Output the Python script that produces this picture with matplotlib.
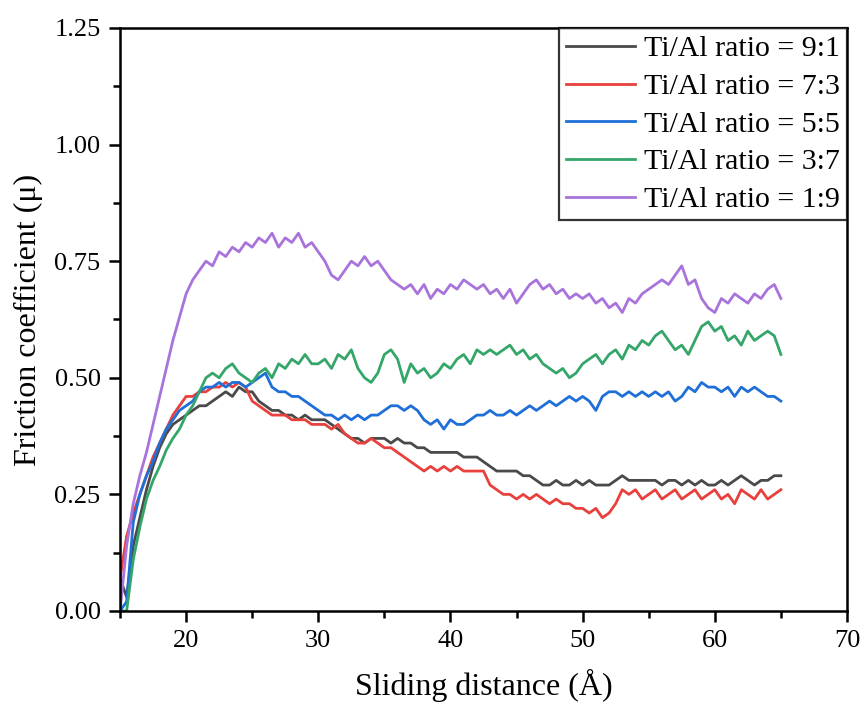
import numpy as np
import matplotlib.pyplot as plt
from matplotlib.ticker import MultipleLocator

plt.rcParams['font.family'] = ['Liberation Serif', 'DejaVu Serif']

# sliding distance grid (angstrom), 0.5 step from 15 to 65
distance = np.arange(15.0, 65.01, 0.5)

ratio_9_1 = [0.07, 0.03, 0.14, 0.20, 0.26, 0.31, 0.35, 0.38, 0.40, 0.41,
             0.42, 0.43, 0.44, 0.44, 0.45, 0.46, 0.47, 0.46, 0.48, 0.47,
             0.47, 0.45, 0.44, 0.43, 0.43, 0.42, 0.42, 0.41, 0.42, 0.41,
             0.41, 0.41, 0.40, 0.39, 0.38, 0.37, 0.37, 0.36, 0.37, 0.37,
             0.37, 0.36, 0.37, 0.36, 0.36, 0.35, 0.35, 0.34, 0.34, 0.34,
             0.34, 0.34, 0.33, 0.33, 0.33, 0.32, 0.31, 0.30, 0.30, 0.30,
             0.30, 0.29, 0.29, 0.28, 0.27, 0.27, 0.28, 0.27, 0.27, 0.28,
             0.27, 0.28, 0.27, 0.27, 0.27, 0.28, 0.29, 0.28, 0.28, 0.28,
             0.28, 0.28, 0.27, 0.28, 0.28, 0.27, 0.28, 0.27, 0.28, 0.27,
             0.27, 0.28, 0.27, 0.28, 0.29, 0.28, 0.27, 0.28, 0.28, 0.29,
             0.29]

ratio_7_3 = [0.07, 0.16, 0.21, 0.25, 0.29, 0.33, 0.36, 0.39, 0.42, 0.44,
             0.46, 0.46, 0.47, 0.47, 0.48, 0.48, 0.49, 0.48, 0.49, 0.48,
             0.45, 0.44, 0.43, 0.42, 0.42, 0.42, 0.41, 0.41, 0.41, 0.40,
             0.40, 0.40, 0.39, 0.40, 0.38, 0.37, 0.36, 0.36, 0.37, 0.36,
             0.35, 0.35, 0.34, 0.33, 0.32, 0.31, 0.30, 0.31, 0.30, 0.31,
             0.30, 0.31, 0.30, 0.30, 0.30, 0.30, 0.27, 0.26, 0.25, 0.25,
             0.24, 0.25, 0.24, 0.25, 0.24, 0.23, 0.24, 0.23, 0.23, 0.22,
             0.22, 0.21, 0.22, 0.20, 0.21, 0.23, 0.26, 0.25, 0.26, 0.24,
             0.25, 0.26, 0.24, 0.25, 0.26, 0.24, 0.25, 0.26, 0.24, 0.25,
             0.26, 0.24, 0.25, 0.23, 0.26, 0.25, 0.24, 0.26, 0.24, 0.25,
             0.26]

ratio_5_5 = [0.00, 0.02, 0.19, 0.25, 0.29, 0.32, 0.36, 0.39, 0.41, 0.43,
             0.44, 0.45, 0.47, 0.48, 0.48, 0.49, 0.48, 0.49, 0.49, 0.48,
             0.49, 0.50, 0.51, 0.48, 0.47, 0.47, 0.46, 0.46, 0.45, 0.44,
             0.43, 0.42, 0.42, 0.41, 0.42, 0.41, 0.42, 0.41, 0.42, 0.42,
             0.43, 0.44, 0.44, 0.43, 0.44, 0.43, 0.41, 0.40, 0.41, 0.39,
             0.41, 0.40, 0.40, 0.41, 0.42, 0.42, 0.43, 0.42, 0.42, 0.43,
             0.42, 0.43, 0.44, 0.43, 0.44, 0.45, 0.44, 0.45, 0.46, 0.45,
             0.46, 0.45, 0.43, 0.46, 0.47, 0.47, 0.46, 0.47, 0.46, 0.47,
             0.46, 0.47, 0.46, 0.47, 0.45, 0.46, 0.48, 0.47, 0.49, 0.48,
             0.48, 0.47, 0.48, 0.46, 0.48, 0.47, 0.48, 0.47, 0.46, 0.46,
             0.45]

ratio_3_7 = [0.00, 0.00, 0.11, 0.18, 0.24, 0.28, 0.31, 0.345, 0.37, 0.39,
             0.42, 0.44, 0.47, 0.50, 0.51, 0.50, 0.52, 0.53, 0.51, 0.50,
             0.49, 0.51, 0.52, 0.50, 0.53, 0.52, 0.54, 0.53, 0.55, 0.53,
             0.53, 0.54, 0.52, 0.55, 0.54, 0.56, 0.52, 0.50, 0.49, 0.51,
             0.55, 0.56, 0.54, 0.49, 0.53, 0.51, 0.52, 0.50, 0.51, 0.53,
             0.52, 0.54, 0.55, 0.53, 0.56, 0.55, 0.56, 0.55, 0.56, 0.57,
             0.55, 0.56, 0.54, 0.55, 0.53, 0.52, 0.51, 0.52, 0.50, 0.51,
             0.53, 0.54, 0.55, 0.53, 0.55, 0.56, 0.54, 0.57, 0.56, 0.58,
             0.57, 0.59, 0.60, 0.58, 0.56, 0.57, 0.55, 0.58, 0.61, 0.62,
             0.60, 0.61, 0.58, 0.59, 0.57, 0.60, 0.58, 0.59, 0.60, 0.59,
             0.55]

ratio_1_9 = [0.00, 0.14, 0.23, 0.29, 0.34, 0.40, 0.46, 0.52, 0.58, 0.63,
             0.68, 0.71, 0.73, 0.75, 0.74, 0.77, 0.76, 0.78, 0.77, 0.79,
             0.78, 0.80, 0.79, 0.81, 0.78, 0.80, 0.79, 0.81, 0.78, 0.79,
             0.77, 0.75, 0.72, 0.71, 0.73, 0.75, 0.74, 0.76, 0.74, 0.75,
             0.73, 0.71, 0.70, 0.69, 0.70, 0.68, 0.70, 0.67, 0.69, 0.68,
             0.70, 0.69, 0.71, 0.70, 0.69, 0.70, 0.68, 0.69, 0.67, 0.69,
             0.66, 0.68, 0.70, 0.71, 0.69, 0.70, 0.68, 0.69, 0.67, 0.68,
             0.67, 0.68, 0.66, 0.67, 0.65, 0.66, 0.64, 0.67, 0.66, 0.68,
             0.69, 0.70, 0.71, 0.70, 0.72, 0.74, 0.70, 0.71, 0.67, 0.65,
             0.64, 0.67, 0.66, 0.68, 0.67, 0.66, 0.68, 0.67, 0.69, 0.70,
             0.67]

labels = ['Ti/Al ratio = 9:1', 'Ti/Al ratio = 7:3', 'Ti/Al ratio = 5:5',
          'Ti/Al ratio = 3:7', 'Ti/Al ratio = 1:9']
colors = ['#4a4a4a', '#e8403c', '#1f6fd8', '#35a66a', '#a874dc']
series = [ratio_9_1, ratio_7_3, ratio_5_5, ratio_3_7, ratio_1_9]

fig = plt.figure(figsize=(8.61, 7.03), dpi=100)
ax = fig.add_axes([0.1394, 0.1309, 0.8443, 0.8293])

for ys, lab, c in zip(series, labels, colors):
    ax.plot(distance, ys, color=c, lw=2.0, label=lab)

ax.set_xlim(15, 70)
ax.set_ylim(0, 1.25)
ax.xaxis.set_major_locator(MultipleLocator(10))
ax.xaxis.set_minor_locator(MultipleLocator(5))
ax.yaxis.set_major_locator(MultipleLocator(0.25))
ax.yaxis.set_minor_locator(MultipleLocator(0.125))
ax.yaxis.set_major_formatter(plt.FormatStrFormatter('%.2f'))
ax.set_xticks([20, 30, 40, 50, 60, 70])

for s in ax.spines.values():
    s.set_linewidth(1.8)
ax.tick_params(which='major', direction='out', length=8, width=1.8,
               top=False, right=False, pad=6)
ax.tick_params(which='minor', direction='out', length=5, width=1.8,
               top=False, right=False)
for t in ax.get_xticklabels() + ax.get_yticklabels():
    t.set_fontsize(19)

ax.set_xlabel('Sliding distance (Å)', fontsize=23, labelpad=12)
ax.set_ylabel('Friction coefficient (μ)', fontsize=23, labelpad=8)

leg = ax.legend(loc='upper right', fontsize=21.5, frameon=True, fancybox=False,
                edgecolor='black', handlelength=2.3, handletextpad=0.3,
                labelspacing=0.36, borderpad=0.25, borderaxespad=0.0)
leg.get_frame().set_linewidth(1.6)

fig.savefig('out.png', dpi=100)
